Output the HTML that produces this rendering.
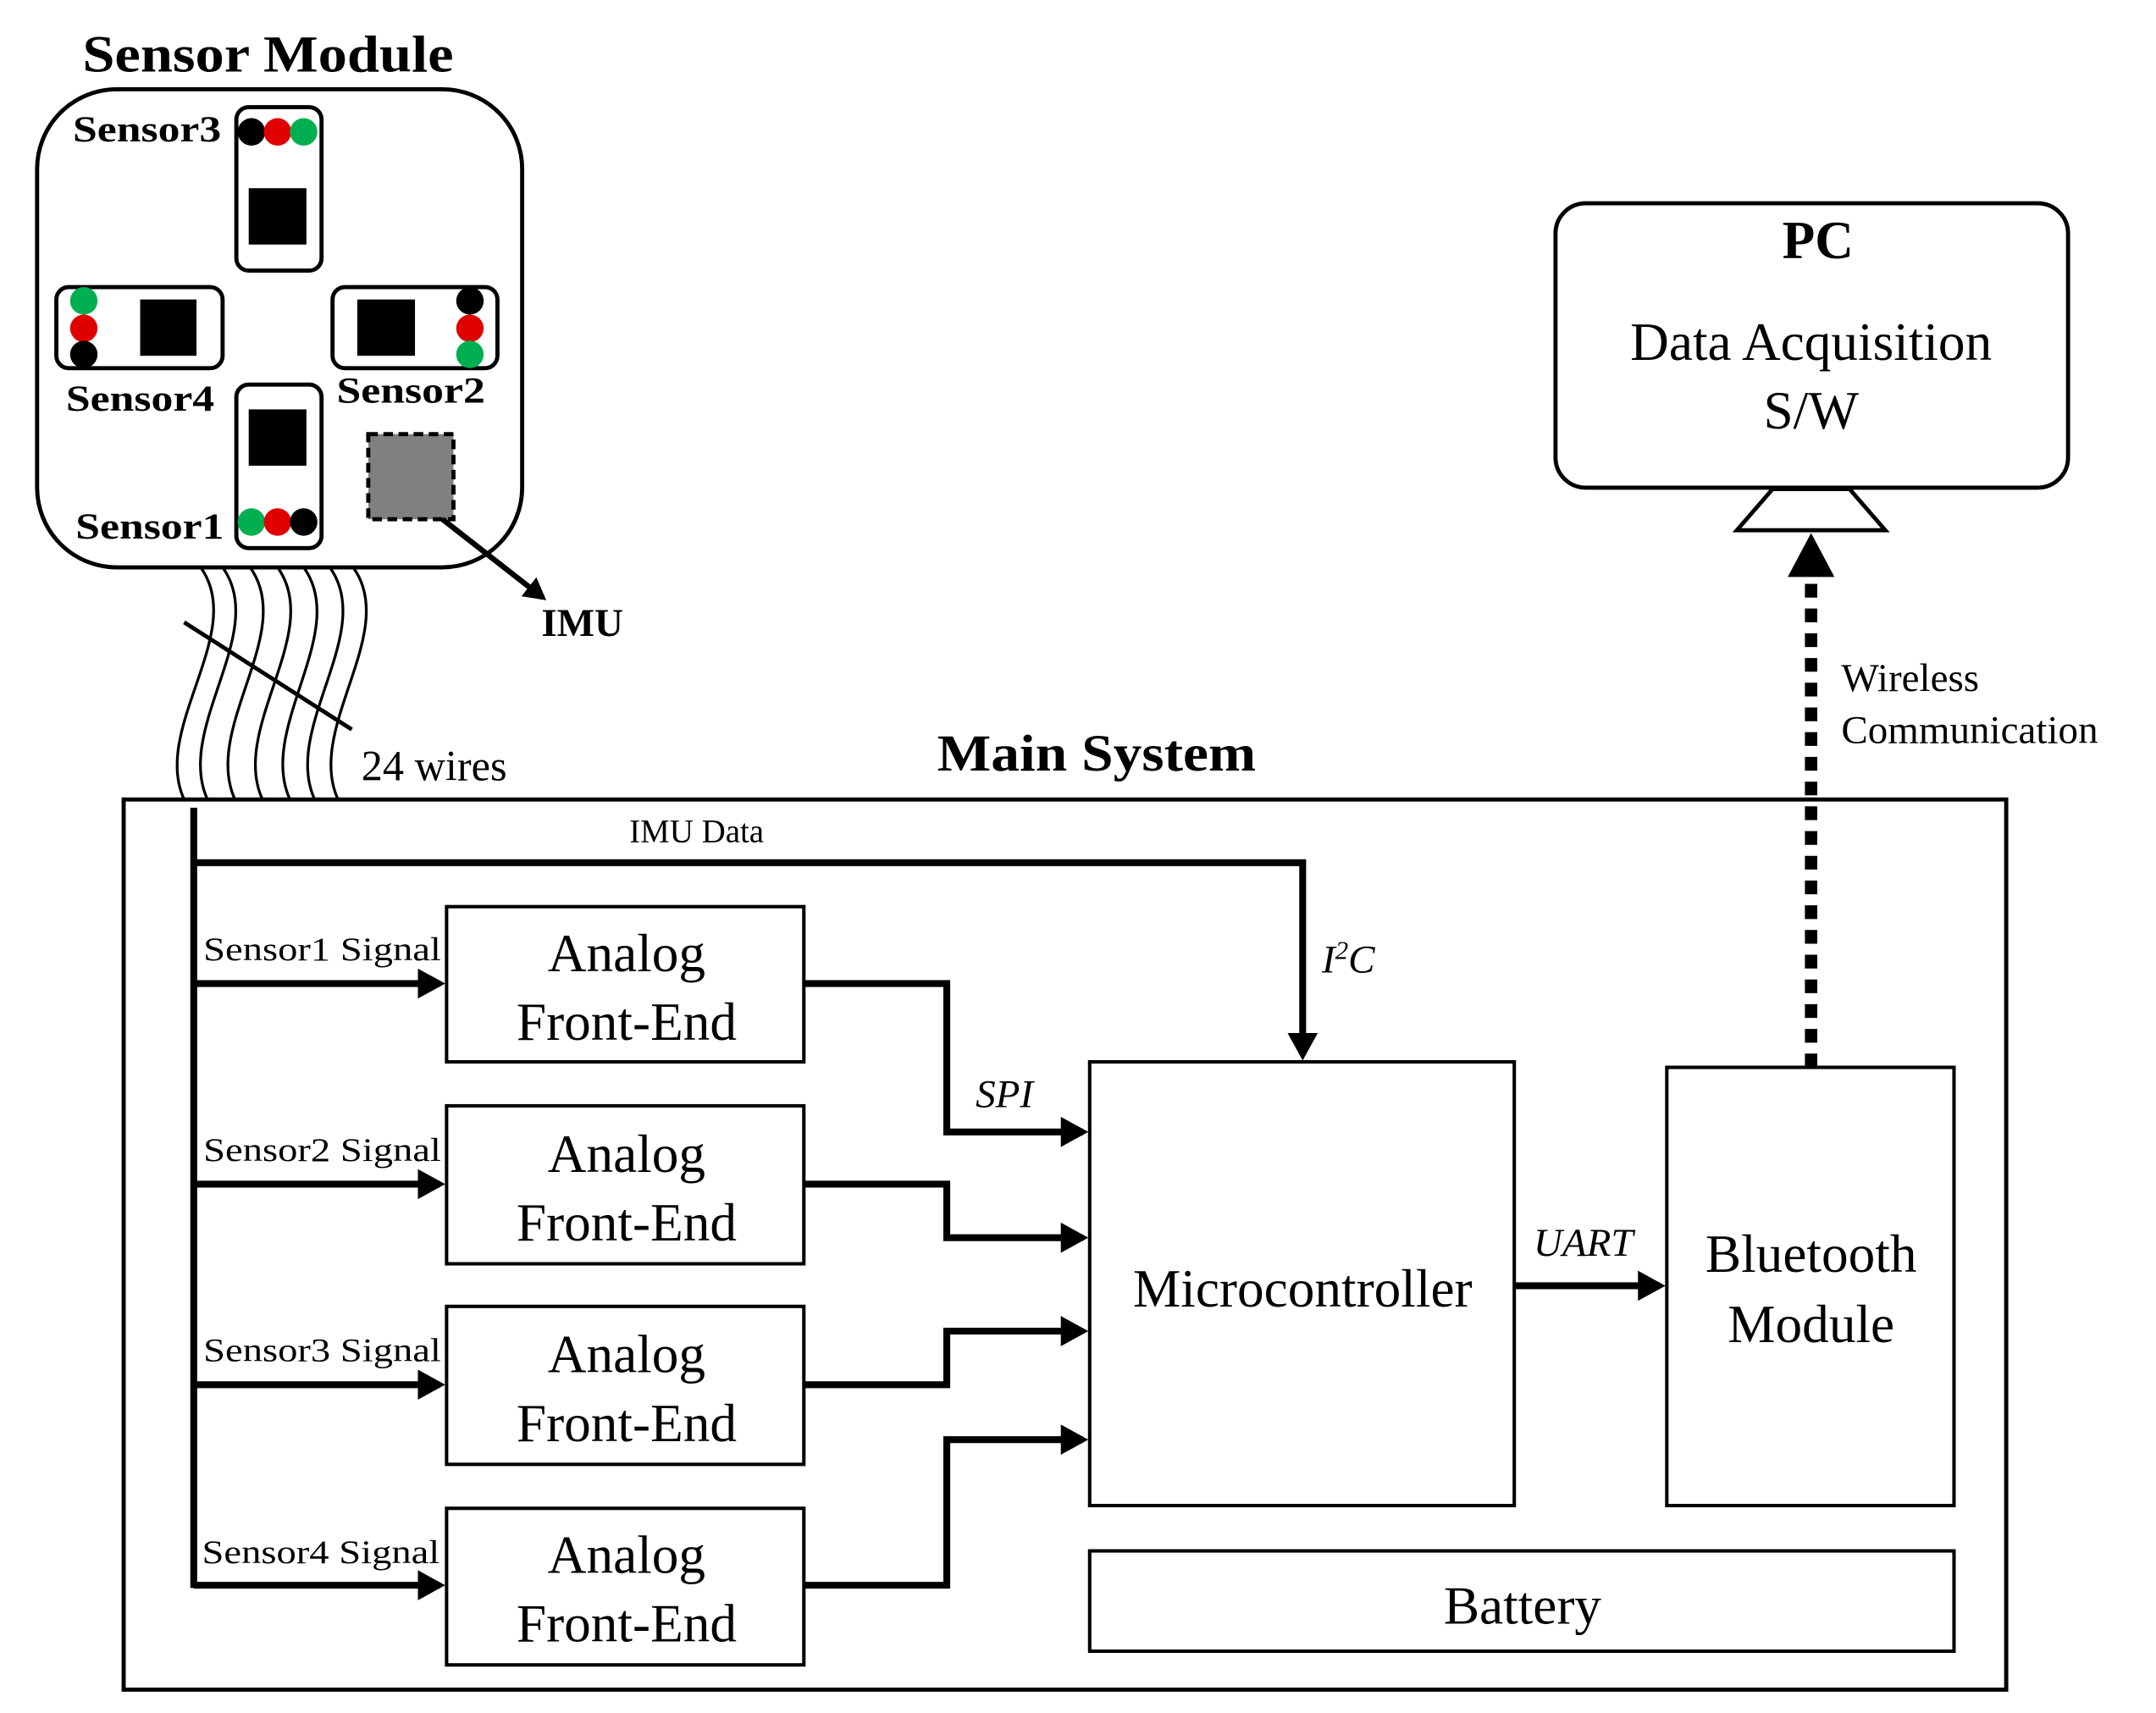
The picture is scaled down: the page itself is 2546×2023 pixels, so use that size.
<!DOCTYPE html>
<html><head><meta charset="utf-8"><style>html,body{margin:0;padding:0;background:#fff}svg{display:block}svg text{font-family:"Liberation Serif","Times New Roman",Times,serif}</style></head>
<body>
<svg width="2546" height="2023" viewBox="0 0 1569 1247" preserveAspectRatio="none" xmlns="http://www.w3.org/2000/svg">
<defs>
<marker id="ah" markerWidth="4" markerHeight="4.4" refX="3.2" refY="2.2" orient="auto" markerUnits="strokeWidth"><path d="M0,0 L4,2.2 L0,4.4 z" fill="#000"/></marker>
</defs>
<rect width="1600" height="1300" fill="#fff"/>
<text x="60" y="52" font-size="38" font-weight="bold" textLength="270" lengthAdjust="spacingAndGlyphs">Sensor Module</text>
<rect x="27" y="65" width="353" height="348" rx="58" fill="none" stroke="#000" stroke-width="3"/>
<g stroke="#000" stroke-width="3" fill="none">
<rect x="172" y="78" width="62" height="119" rx="9"/>
<rect x="41" y="209" width="121" height="59" rx="9"/>
<rect x="242" y="209" width="120" height="59" rx="9"/>
<rect x="172" y="280" width="62" height="119" rx="9"/>
</g>
<g fill="#000">
<rect x="181" y="137" width="42" height="41"/>
<rect x="102" y="218" width="41" height="41"/>
<rect x="260" y="218" width="42" height="41"/>
<rect x="181" y="298" width="42" height="41"/>
</g>
<circle cx="183" cy="96" r="10" fill="#000"/><circle cx="202" cy="96" r="10" fill="#e00000"/><circle cx="221" cy="96" r="10" fill="#00b050"/>
<circle cx="61" cy="219" r="10" fill="#00b050"/><circle cx="61" cy="239" r="10" fill="#e00000"/><circle cx="61" cy="258" r="10" fill="#000"/>
<circle cx="342" cy="219" r="10" fill="#000"/><circle cx="342" cy="239" r="10" fill="#e00000"/><circle cx="342" cy="258" r="10" fill="#00b050"/>
<circle cx="183" cy="380" r="10" fill="#00b050"/><circle cx="202" cy="380" r="10" fill="#e00000"/><circle cx="221" cy="380" r="10" fill="#000"/>
<g font-size="27" font-weight="bold">
<text x="53" y="103" textLength="108" lengthAdjust="spacingAndGlyphs">Sensor3</text>
<text x="48" y="299" textLength="108" lengthAdjust="spacingAndGlyphs">Sensor4</text>
<text x="245" y="293" textLength="108" lengthAdjust="spacingAndGlyphs">Sensor2</text>
<text x="55" y="392" textLength="108" lengthAdjust="spacingAndGlyphs">Sensor1</text>
</g>
<rect x="268" y="316" width="62" height="62" fill="#808080" stroke="#000" stroke-width="3" stroke-dasharray="7,4"/>
<line x1="322" y1="378" x2="395" y2="435" stroke="#000" stroke-width="4" marker-end="url(#ah)"/>
<text x="394" y="463" font-size="29" font-weight="bold">IMU</text>
<g stroke="#000" stroke-width="2" fill="none">
<path d="M146,413 C180,460 110,530 134,582"/>
<path d="M162,413 C196,460 127,530 151,582"/>
<path d="M182,413 C216,460 147,530 171,582"/>
<path d="M202,413 C236,460 167,530 191,582"/>
<path d="M221,413 C255,460 187,530 211,582"/>
<path d="M240,413 C274,460 205,530 229,582"/>
<path d="M257,413 C291,460 222,530 246,582"/>
<line x1="134" y1="453" x2="256" y2="531" stroke-width="3"/>
</g>
<text x="263" y="568" font-size="31">24 wires</text>
<text x="682" y="561" font-size="38" font-weight="bold" textLength="232" lengthAdjust="spacingAndGlyphs">Main System</text>
<rect x="90" y="582" width="1370" height="648" fill="none" stroke="#000" stroke-width="3"/>
<g stroke="#000" stroke-width="5" fill="none">
<line x1="141" y1="588" x2="141" y2="1156"/>
<polyline points="141,628 948,628 948,768" marker-end="url(#ah)"/>
<line x1="141" y1="716" x2="320" y2="716" marker-end="url(#ah)"/>
<line x1="141" y1="862" x2="320" y2="862" marker-end="url(#ah)"/>
<line x1="141" y1="1008" x2="320" y2="1008" marker-end="url(#ah)"/>
<line x1="141" y1="1154" x2="320" y2="1154" marker-end="url(#ah)"/>
<polyline points="585,716 689,716 689,824 788,824" marker-end="url(#ah)"/>
<polyline points="585,862 689,862 689,901 788,901" marker-end="url(#ah)"/>
<polyline points="585,1008 689,1008 689,969 788,969" marker-end="url(#ah)"/>
<polyline points="585,1154 689,1154 689,1048 788,1048" marker-end="url(#ah)"/>
<line x1="1102" y1="936" x2="1208" y2="936" marker-end="url(#ah)"/>
</g>
<text x="458" y="613" font-size="24">IMU Data</text>
<text x="962" y="708" font-size="29" font-style="italic">I<tspan dy="-10" font-size="19">2</tspan><tspan dy="10">C</tspan></text>
<g font-size="24">
<text x="148" y="699" textLength="173" lengthAdjust="spacingAndGlyphs">Sensor1 Signal</text>
<text x="148" y="845" textLength="173" lengthAdjust="spacingAndGlyphs">Sensor2 Signal</text>
<text x="148" y="991" textLength="173" lengthAdjust="spacingAndGlyphs">Sensor3 Signal</text>
<text x="147" y="1138" textLength="173" lengthAdjust="spacingAndGlyphs">Sensor4 Signal</text>
</g>
<g stroke="#000" stroke-width="2.5" fill="none">
<rect x="325" y="660" width="260" height="113"/>
<rect x="325" y="805" width="260" height="115"/>
<rect x="325" y="951" width="260" height="115"/>
<rect x="325" y="1098" width="260" height="114"/>
<rect x="793" y="773" width="309" height="323"/>
<rect x="1213" y="777" width="209" height="319"/>
<rect x="793" y="1129" width="629" height="73"/>
</g>
<g font-size="39" text-anchor="middle">
<text x="456" y="707">Analog</text><text x="456" y="757">Front-End</text>
<text x="456" y="853">Analog</text><text x="456" y="903">Front-End</text>
<text x="456" y="999">Analog</text><text x="456" y="1049">Front-End</text>
<text x="456" y="1145">Analog</text><text x="456" y="1195">Front-End</text>
<text x="948" y="951">Microcontroller</text>
<text x="1318" y="926">Bluetooth</text><text x="1318" y="977">Module</text>
<text x="1108" y="1182">Battery</text>
</g>
<text x="710" y="806" font-size="29" font-style="italic">SPI</text>
<text x="1116" y="914" font-size="29" font-style="italic">UART</text>
<line x1="1318" y1="777" x2="1318" y2="418" stroke="#000" stroke-width="9" stroke-dasharray="10,8"/>
<path d="M1301,420 L1318,388 L1335,420 z" fill="#000"/>
<polygon points="1290,356 1346,356 1372,386 1264,386" fill="#fff" stroke="#000" stroke-width="3"/>
<rect x="1132" y="148" width="373" height="207" rx="22" fill="#fff" stroke="#000" stroke-width="3"/>
<text x="1323" y="188" font-size="39" font-weight="bold" text-anchor="middle">PC</text>
<text x="1318" y="262" font-size="39" text-anchor="middle">Data Acquisition</text>
<text x="1318" y="312" font-size="39" text-anchor="middle">S/W</text>
<text x="1340" y="503" font-size="29">Wireless</text>
<text x="1340" y="541" font-size="29">Communication</text>
</svg>
</body></html>
